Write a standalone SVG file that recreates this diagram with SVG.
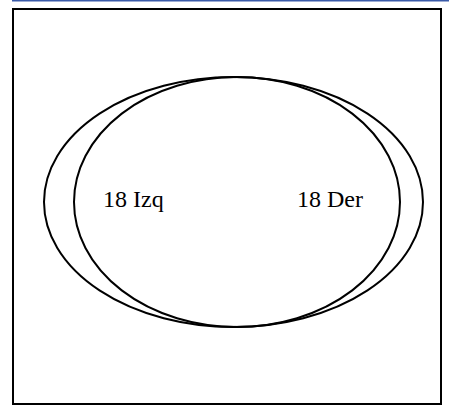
<svg xmlns="http://www.w3.org/2000/svg" width="449" height="408" viewBox="0 0 449 408">
<style>
.e{fill:none;stroke:#000;stroke-width:2}
</style>
<rect x="0" y="0" width="449" height="408" fill="#fff"/>
<line x1="12" y1="0.5" x2="449" y2="0.5" stroke="#3a5aa8" stroke-width="2"/>
<rect x="13" y="9" width="428" height="395" fill="none" stroke="#000" stroke-width="2"/>
<g id="outer"><ellipse class="e" cx="233.5" cy="202" rx="189.5" ry="125"/></g>
<g id="inner"><ellipse class="e" cx="237" cy="202" rx="163" ry="125"/></g>
<g id="labels" font-family="'Liberation Serif', 'DejaVu Serif', serif" font-size="24" fill="#000">
<text x="103" y="207">18 Izq</text>
<text x="297" y="207">18 Der</text>
</g>
</svg>
